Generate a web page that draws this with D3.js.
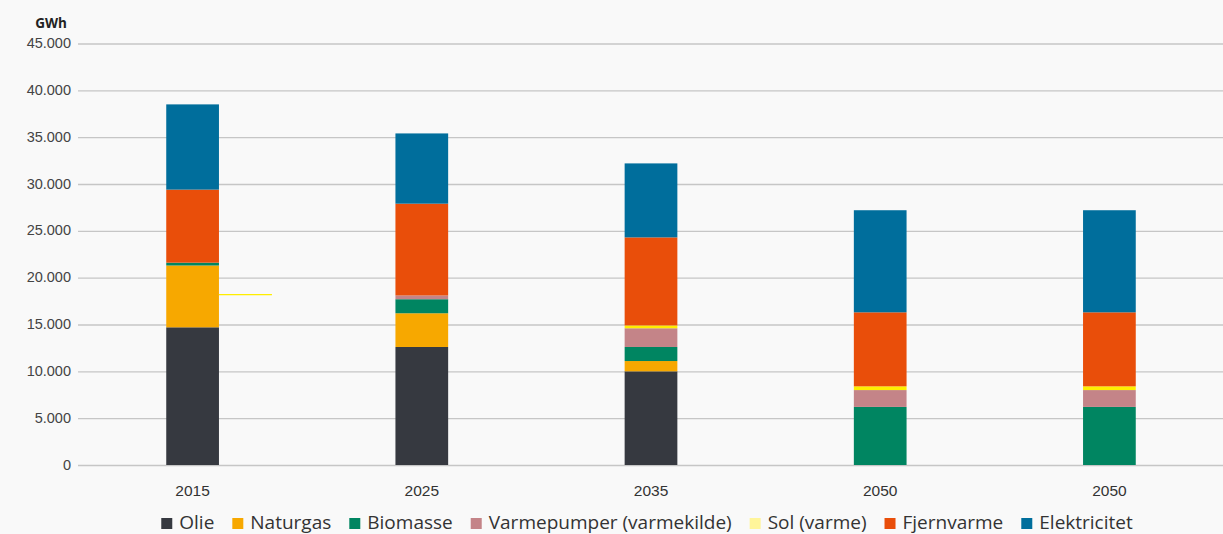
<!DOCTYPE html>
<html><head><meta charset="utf-8">
<script src="https://cdn.jsdelivr.net/npm/d3@7"></script>
<style>html,body{margin:0;padding:0;background:#f9f9f9;}svg{display:block;font-family:"Open Sans",Lato,sans-serif;}</style>
</head><body><svg id="c" width="1223" height="534"></svg>
<script>
const categories = ["2015","2025","2035","2050","2050"];
const seriesNames = ["Olie","Naturgas","Biomasse","Varmepumper (varmekilde)","Sol (varme)","Fjernvarme","Elektricitet"];
const olie        = [14700, 12600, 10000,     0,     0];
const naturgas    = [ 6600,  3600,  1100,     0,     0];
const biomasse    = [  300,  1500,  1500,  6200,  6200];
const varmepumper = [    0,   400,  2000,  1800,  1800];
const sol         = [    0,     0,   300,   400,   400];
const fjernvarme  = [ 7800,  9800,  9400,  7900,  7900];
const elektricitet= [ 9100,  7500,  7900, 10900, 10900];
const yTicks = [0,5000,10000,15000,20000,25000,30000,35000,40000,45000];
const colors = ["#363940","#f7a800","#008561","#c48488","#ffee00","#e94e0a","#006e9c"];
const legendColors = ["#363940","#f7a800","#008561","#c48488","#fff59a","#e94e0a","#006e9c"];
const annotationValue = 18200; // yellow leader line next to 2015

(function(){
const seriesValues = [olie,naturgas,biomasse,varmepumper,sol,fjernvarme,elektricitet];
const rows = categories.map((c,i)=>{const r={idx:i,cat:c};seriesNames.forEach((s,j)=>r[s]=seriesValues[j][i]);return r;});
const stacked = d3.stack().keys(seriesNames)(rows);

const svg = d3.select("#c");
const mLeft=78, mRight=1224, mTop=43.5, mBottom=465;
const x = d3.scaleBand().domain(d3.range(categories.length)).range([mLeft,mRight]).paddingInner(0.77).paddingOuter(0.385);
const y = d3.scaleLinear().domain([0,45000]).range([mBottom,mTop]);
const fmt = v => d3.format(",")(v).replace(/,/g,".");

const yAxis = d3.axisLeft(y).tickValues(yTicks).tickFormat(fmt).tickSize(-(mRight-mLeft)).tickPadding(8);
const ga = svg.append("g").attr("transform",`translate(${mLeft},0)`).call(yAxis);
ga.select(".domain").remove();
ga.selectAll(".tick line").attr("stroke","#c6c6c6").attr("stroke-width",1.3);
ga.selectAll(".tick text").attr("fill","#444").attr("font-size",14.5).attr("x",-7).attr("dy","0.28em");

svg.append("text").attr("x",67).attr("y",28).attr("text-anchor","end").attr("font-weight","bold").attr("font-size",13.5).attr("fill","#222").text("GWh");

svg.append("g").selectAll("g").data(stacked).join("g").attr("fill",(d,i)=>colors[i])
  .selectAll("rect").data(d=>d).join("rect")
  .attr("x",d=>x(d.data.idx)).attr("width",x.bandwidth())
  .attr("y",d=>y(d[1])).attr("height",d=>Math.max(0,y(d[0])-y(d[1])));

svg.append("line").attr("x1",x(0)+x.bandwidth()).attr("x2",x(0)+x.bandwidth()+53)
  .attr("y1",y(annotationValue)).attr("y2",y(annotationValue)).attr("stroke","#ffee00").attr("stroke-width",1.2);

const xAxis = d3.axisBottom(x).tickFormat(i=>categories[i]).tickSize(0).tickPadding(20);
const gx = svg.append("g").attr("transform",`translate(0,${mBottom})`).call(xAxis);
gx.select(".domain").remove();
gx.selectAll(".tick text").attr("fill","#333").attr("font-size",15.5);

const targetW = 1133 - 161, gap = 18, sq = 11, sqGap = 7;
function build(fs){
  const lg = svg.append("g");
  let cx = 0;
  seriesNames.forEach((n,i)=>{
    const g = lg.append("g").attr("transform",`translate(${cx},0)`);
    g.append("rect").attr("width",sq).attr("height",sq).attr("y",-11).attr("fill",legendColors[i]);
    const t = g.append("text").attr("x",sq+sqGap).attr("y",0).attr("font-size",fs).attr("fill","#333").text(n);
    cx += sq + sqGap + t.node().getComputedTextLength() + gap;
  });
  return {lg, total: cx - gap};
}
let r = build(17);
const fs = 17 * (targetW - 7*(sq+sqGap) - 6*gap) / (r.total - 7*(sq+sqGap) - 6*gap);
r.lg.remove();
r = build(Math.min(fs, 19));
r.lg.attr("transform",`translate(${(161+1133)/2 - r.total/2},529)`);
})();
</script></body></html>
